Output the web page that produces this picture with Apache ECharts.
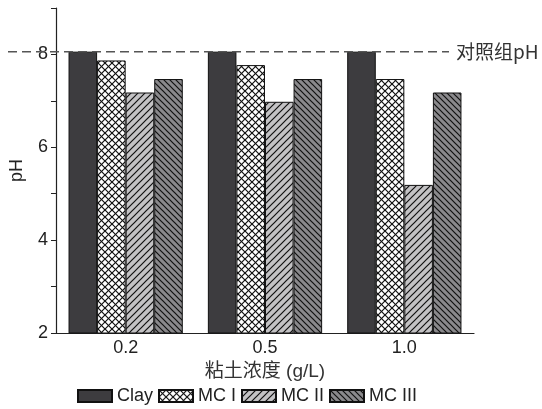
<!DOCTYPE html>
<html><head><meta charset="utf-8">
<script src="https://cdn.jsdelivr.net/npm/echarts@6/dist/echarts.min.js"></script>
<style>html,body{margin:0;padding:0;background:#fff}#c{width:542px;height:409px}</style>
</head><body><div id="c"></div>
<script>
const categories = ['0.2', '0.5', '1.0'];
const seriesNames = ['Clay', 'MC I', 'MC II', 'MC III'];
const clay = [8.06, 8.06, 8.06];
const mc1 = [7.87, 7.77, 7.47];
const mc2 = [7.18, 6.98, 5.19];
const mc3 = [7.47, 7.47, 7.18];
const controlPH = 8.06;
const controlLabel = '对照组pH';
const xName = '粘土浓度 (g/L)';
const yName = 'pH';

function pattern(bg, dirs, s) {
  const c = document.createElement('canvas');
  c.width = s; c.height = s;
  const g = c.getContext('2d');
  g.fillStyle = bg; g.fillRect(0, 0, s, s);
  g.strokeStyle = '#111'; g.lineWidth = 1.2;
  dirs.forEach(d => {
    g.beginPath();
    if (d === '/') {
      g.moveTo(0, s); g.lineTo(s, 0);
      g.moveTo(-1, 1); g.lineTo(1, -1);
      g.moveTo(s - 1, s + 1); g.lineTo(s + 1, s - 1);
    } else {
      g.moveTo(0, 0); g.lineTo(s, s);
      g.moveTo(-1, s - 1); g.lineTo(1, s + 1);
      g.moveTo(s - 1, -1); g.lineTo(s + 1, 1);
    }
    g.stroke();
  });
  return { image: c, repeat: 'repeat' };
}

const fills = [
  '#3d3c3f',
  pattern('#ffffff', ['/', '\\'], 7),
  pattern('#c3c2c4', ['/'], 7),
  pattern('#8a898c', ['\\'], 6)
];
const values = [clay, mc1, mc2, mc3];

const chart = echarts.init(document.getElementById('c'));
const font = 'Liberation Sans, Arial, Noto Sans CJK SC, sans-serif';
chart.setOption({
  animation: false,
  textStyle: { fontFamily: font },
  grid: { left: 53, right: 68, top: 8, bottom: 76 },
  legend: {
    top: 387, left: 77, padding: 0, icon: 'rect', itemWidth: 34, itemHeight: 12, itemGap: 5,
    textStyle: { fontSize: 18, color: '#222', fontFamily: font },
    data: seriesNames
  },
  xAxis: {
    type: 'category', data: categories,
    name: xName, nameLocation: 'middle', nameGap: 27,
    nameTextStyle: { fontSize: 19, color: '#333', fontFamily: font },
    axisLine: { lineStyle: { color: '#222', width: 1.2 } },
    axisTick: { inside: true, length: 5, lineStyle: { color: '#222' } },
    axisLabel: { fontSize: 18, color: '#222', margin: 6 }
  },
  yAxis: {
    type: 'value', min: 2, max: 9, interval: 1,
    name: yName, nameLocation: 'middle', nameGap: 30,
    nameTextStyle: { fontSize: 18, color: '#222', fontFamily: font },
    axisLine: { show: true, lineStyle: { color: '#222', width: 1.2 } },
    axisTick: { show: true, length: 5, lineStyle: { color: '#222' } },
    splitLine: { show: false },
    axisLabel: { fontSize: 18, color: '#222', margin: 8,
      formatter: v => (v % 2 === 0 ? String(v) : '') }
  },
  series: seriesNames.map((n, i) => ({
    name: n, type: 'bar', data: values[i],
    barGap: '0%', barCategoryGap: '18%',
    itemStyle: { color: fills[i], borderColor: '#111', borderWidth: 1 }
  }))
});

const yPix = chart.convertToPixel({ yAxisIndex: 0 }, controlPH);
chart.setOption({
  graphic: [
    { type: 'line', z: 100, shape: { x1: 8, y1: yPix, x2: 449, y2: yPix },
      style: { stroke: '#555', lineWidth: 1.5, lineDash: [9, 5] } },
    { type: 'text', z: 100, x: 456, y: yPix,
      style: { text: controlLabel, fontSize: 19, fill: '#333', verticalAlign: 'middle',
        fontFamily: 'Noto Sans CJK SC, Liberation Sans, sans-serif' } }
  ]
});
</script></body></html>
